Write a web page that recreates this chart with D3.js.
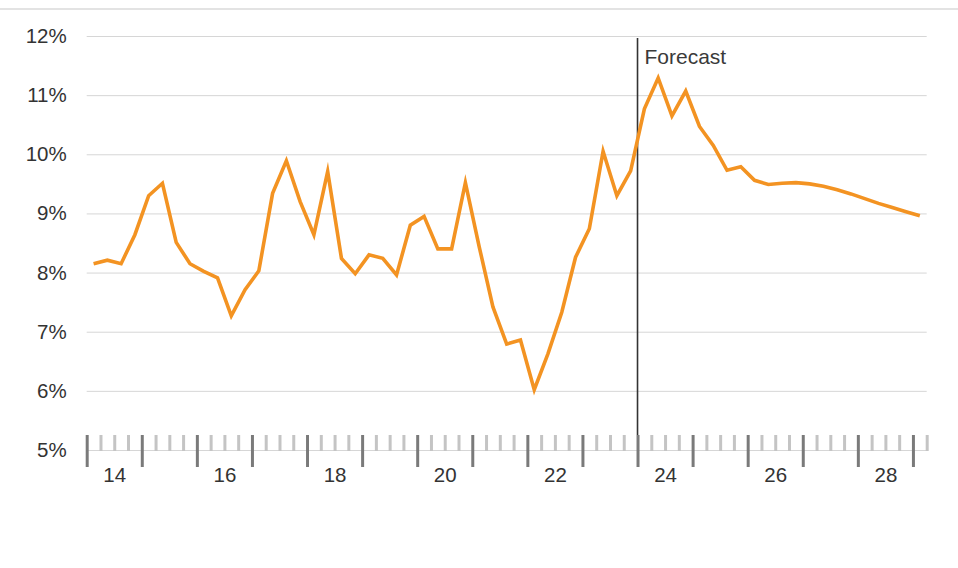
<!DOCTYPE html>
<html>
<head>
<meta charset="utf-8">
<script src="https://cdn.jsdelivr.net/npm/d3@7"></script>
<style>
  html, body { margin: 0; padding: 0; background: #fff; }
  svg { display: block; font-family: "Liberation Sans", Arial, Helvetica, sans-serif; }
</style>
</head>
<body>
<svg id="chart" width="958" height="568"></svg>
<script>
// ---- data ----
const startYear = 2014;
const values = [
  8.15, 8.21, 8.15, 8.64,   // 2014
  9.30, 9.51, 8.51, 8.15,   // 2015
  8.02, 7.91, 7.27, 7.71,   // 2016
  8.03, 9.34, 9.89, 9.20,   // 2017
  8.64, 9.71, 8.24, 7.98,   // 2018
  8.30, 8.24, 7.96, 8.80,   // 2019
  8.95, 8.40, 8.40, 9.52,   // 2020
  8.44, 7.42, 6.79, 6.86,   // 2021
  6.02, 6.63, 7.33, 8.26,   // 2022
  8.74, 10.05, 9.30, 9.72,  // 2023
  10.77, 11.29, 10.65, 11.07, // 2024
  10.47, 10.15, 9.73, 9.79, // 2025
  9.56, 9.49, 9.51, 9.52,   // 2026
  9.50, 9.46, 9.40, 9.33,   // 2027
  9.25, 9.17, 9.10, 9.03,   // 2028
  8.96                      // 2029 Q1
];
const yTicks = [5, 6, 7, 8, 9, 10, 11, 12];
const majorTickYears = d3.range(2014, 2030);
const labelYears = [2014, 2016, 2018, 2020, 2022, 2024, 2026, 2028];
const forecastStart = 2024;
const forecastLabel = "Forecast";

(function () {
// ---- layout ----
const svg = d3.select("#chart");
const W = 958;
const mLeft = 86.7, mRight = 926.7, mTop = 36, mBottom = 450;

const x = d3.scaleLinear().domain([startYear, startYear + values.length / 4]).range([mLeft, mRight]);
const y = d3.scaleLinear().domain([5, 12]).range([mBottom, mTop]);

const pts = values.map((v, i) => ({ t: startYear + i / 4 + 0.125, v }));
const minorTicks = d3.range(0, values.length + 1).map(i => startYear + i / 4).filter(t => Math.abs(t - Math.round(t)) > 1e-6);

const textColor = "#333";

// top rule
svg.append("line").attr("x1", 0).attr("x2", W).attr("y1", 9).attr("y2", 9)
  .attr("stroke", "#e3e3e3").attr("stroke-width", 2);

// y gridlines + labels
const yAxis = svg.append("g").attr("transform", `translate(${mLeft},0)`)
  .call(d3.axisLeft(y).tickValues(yTicks).tickSize(-(mRight - mLeft)).tickPadding(20).tickFormat(d => d + "%"));
yAxis.select(".domain").remove();
yAxis.selectAll(".tick line").attr("stroke", "#d6d6d6").attr("stroke-width", 1);
yAxis.selectAll(".tick text").attr("fill", textColor).style("font-size", "20.5px")
  .style("font-family", "'Liberation Sans', Arial, sans-serif");

// minor ticks
const minorAxis = svg.append("g").attr("transform", `translate(0,${mBottom + 1})`)
  .call(d3.axisTop(x).tickValues(minorTicks).tickSize(16).tickFormat(""));
minorAxis.select(".domain").remove();
minorAxis.selectAll(".tick line").attr("stroke", "#c4c4c4").attr("stroke-width", 3);

// major ticks
const majorAxis = svg.append("g").attr("transform", `translate(0,${mBottom - 15})`)
  .call(d3.axisBottom(x).tickValues(majorTickYears).tickSize(32).tickFormat(""));
majorAxis.select(".domain").remove();
majorAxis.selectAll(".tick line").attr("stroke", "#7a7a7a").attr("stroke-width", 3);

// year labels
const labelAxis = svg.append("g").attr("transform", `translate(0,${mBottom})`)
  .call(d3.axisBottom(x).tickValues(labelYears.map(d => d + 0.5)).tickSize(0).tickPadding(17)
    .tickFormat(d => String(Math.floor(d) % 100)));
labelAxis.select(".domain").remove();
labelAxis.selectAll(".tick text").attr("fill", textColor).style("font-size", "20.5px")
  .style("font-family", "'Liberation Sans', Arial, sans-serif");

// forecast divider
svg.append("line")
  .attr("x1", x(forecastStart)).attr("x2", x(forecastStart))
  .attr("y1", y(12) + 2).attr("y2", mBottom - 15)
  .attr("stroke", "#333").attr("stroke-width", 1.6);
svg.append("text").attr("x", x(forecastStart) + 7).attr("y", 63.5)
  .attr("fill", "#3a3a3a").style("font-size", "21px").text(forecastLabel);

// line
const line = d3.line().x(d => x(d.t)).y(d => y(d.v));
svg.append("path").datum(pts).attr("d", line)
  .attr("fill", "none").attr("stroke", "#f39322").attr("stroke-width", 3.6)
  .attr("stroke-linejoin", "miter").attr("stroke-miterlimit", 10);
})();
</script>
</body>
</html>
